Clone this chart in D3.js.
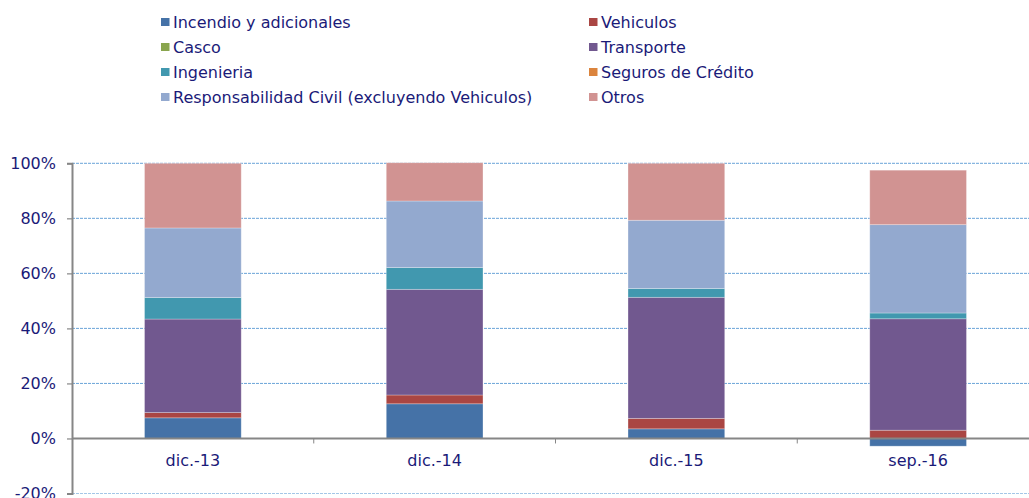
<!DOCTYPE html>
<html>
<head>
<meta charset="utf-8">
<script src="https://cdn.jsdelivr.net/npm/d3@7"></script>
<style>
  body { margin: 0; background: #fff; }
  svg { display: block; font-family: "DejaVu Sans", Verdana, sans-serif; }
</style>
</head>
<body>
<div id="chart"></div>
<script>
//// Data (percent of total)
const categories = ["dic.-13", "dic.-14", "dic.-15", "sep.-16"]
const series_names = [
    "Incendio y adicionales", "Vehiculos", "Casco", "Transporte",
    "Ingenieria", "Seguros de Crédito", "Responsabilidad Civil (excluyendo Vehiculos)", "Otros"
]
const incendio   = [7.5, 12.6, 3.5, -2.8]
const vehiculos  = [1.9, 3.2, 3.8, 3.0]
const casco      = [0, 0, 0, 0]
const transporte = [34.0, 38.4, 44.0, 40.5]
const ingenieria = [7.8, 7.9, 3.2, 2.1]
const seguros    = [0, 0, 0, 0]
const resp_civil = [25.3, 24.2, 24.8, 32.1]
const otros      = [23.5, 13.9, 20.7, 19.8]
const y_ticks = [-20, 0, 20, 40, 60, 80, 100]

const series_values = [incendio, vehiculos, casco, transporte, ingenieria, seguros, resp_civil, otros]
const colors = ["#4572a7", "#aa4643", "#89a54e", "#71588f", "#4198af", "#db843d", "#93a9cf", "#d19392"]
const TEXT_COLOR = "#1a1a78"

//// Table for d3.stack
const table = categories.map(function (c, i) {
    var row = {category: c}
    series_names.forEach(function (s, j) { row[s] = series_values[j][i] })
    return row
})

const W = 1029, H = 498
const svg = d3.select("#chart").append("svg")
    .attr("width", W)
    .attr("height", H)

// Scales
var x = d3.scaleBand()
    .domain(categories)
    .range([72, 1039])
    .paddingInner(0.6)
    .paddingOuter(0.3)

var y = d3.scaleLinear()
    .domain([-20, 100])
    .range([493.5, 163.3])

// Gridlines (dashed, light blue)
svg.append("g")
    .selectAll("line")
    .data(y_ticks.filter(function (d) { return d !== 0 }))
    .enter()
    .append("line")
        .attr("x1", 72)
        .attr("x2", W)
        .attr("y1", function (d) { return y(d) })
        .attr("y2", function (d) { return y(d) })
        .attr("stroke", "#5b9bd5")
        .attr("stroke-width", 1)
        .attr("stroke-dasharray", "3,1")
        .attr("opacity", function (d) { return d < 0 ? 0.55 : 0.9 })

// Stacked bars
var stack = d3.stack()
    .keys(series_names)
    .offset(d3.stackOffsetDiverging)
var stacked = stack(table)

svg.append("g")
    .selectAll("g")
    .data(stacked)
    .enter()
    .append("g")
        .attr("fill", function (d, i) { return colors[i] })
        .selectAll("rect")
        .data(function (d) { return d })
        .enter()
        .append("rect")
            .attr("x", function (d) { return x(d.data.category) })
            .attr("width", x.bandwidth())
            .attr("y", function (d) { return y(Math.max(d[0], d[1])) })
            .attr("height", function (d) { return Math.abs(y(d[0]) - y(d[1])) })
            .attr("stroke", "rgba(255,255,255,0.35)")
            .attr("stroke-width", 0.8)

// Y axis
var y_axis = svg.append("g")
    .attr("transform", "translate(72,0)")
    .call(d3.axisLeft(y).tickValues(y_ticks).tickSize(5).tickPadding(11)
        .tickFormat(function (d) { return d + "%" }))
y_axis.select(".domain").attr("stroke", "#868686").attr("stroke-width", 2)
y_axis.selectAll(".tick line").attr("stroke", "#868686").attr("stroke-width", 1.2)
y_axis.selectAll(".tick text")
    .attr("fill", TEXT_COLOR)
    .style("font-size", "16px")
    .style("font-family", "DejaVu Sans, Verdana, sans-serif")

// Zero line with category ticks
svg.append("line")
    .attr("x1", 72)
    .attr("x2", W)
    .attr("y1", y(0))
    .attr("y2", y(0))
    .attr("stroke", "#868686")
    .attr("stroke-width", 2)

svg.append("g")
    .selectAll("line")
    .data(categories.slice(1))
    .enter()
    .append("line")
        .attr("x1", function (d) { return x(d) - x.step() * x.paddingInner() / 2 })
        .attr("x2", function (d) { return x(d) - x.step() * x.paddingInner() / 2 })
        .attr("y1", y(0))
        .attr("y2", y(0) + 5)
        .attr("stroke", "#868686")
        .attr("stroke-width", 1)

// Category labels
svg.append("g")
    .selectAll("text")
    .data(categories)
    .enter()
    .append("text")
        .attr("x", function (d) { return x(d) + x.bandwidth() / 2 })
        .attr("y", 466)
        .attr("text-anchor", "middle")
        .attr("fill", TEXT_COLOR)
        .style("font-size", "16px")
        .text(function (d) { return d })

// Legend: two columns, four rows
var legend = svg.append("g")
    .selectAll("g")
    .data(series_names)
    .enter()
    .append("g")
        .attr("transform", function (d, i) {
            var col = i % 2, row = Math.floor(i / 2)
            return "translate(" + (col === 0 ? 161 : 589) + "," + (22 + row * 25) + ")"
        })

legend.append("rect")
    .attr("x", 0)
    .attr("y", -4)
    .attr("width", 8.5)
    .attr("height", 8)
    .attr("fill", function (d, i) { return colors[i] })

legend.append("text")
    .attr("x", 12)
    .attr("y", 0)
    .attr("dy", "0.36em")
    .attr("fill", TEXT_COLOR)
    .style("font-size", "16px")
    .text(function (d) { return d })
</script>
</body>
</html>
